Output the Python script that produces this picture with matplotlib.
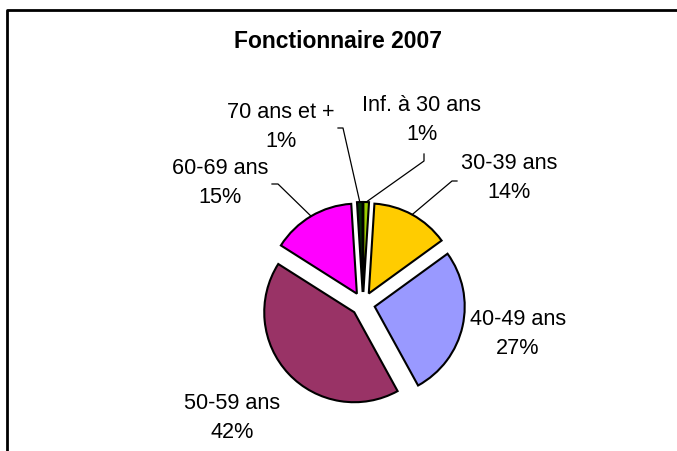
import numpy as np
import matplotlib.pyplot as plt

plt.rcParams['font.family'] = ['Liberation Sans', 'DejaVu Sans']

categories = ['Inf. à 30 ans', '30-39 ans', '40-49 ans', '50-59 ans', '60-69 ans', '70 ans et +']
valeurs = [1, 14, 27, 42, 15, 1]
couleurs = ['#99CC00', '#FFCC00', '#9999FF', '#993366', '#FF00FF', '#003300']

W, H = 677, 452


def px(x, y):
    # coordonnees pixel (origine en haut a gauche) -> donnees
    return x, H - y


fig = plt.figure(figsize=(W / 100, H / 100), dpi=100)
ax = fig.add_axes([0, 0, 1, 1])

# cadre du graphique (coupe a droite et en bas)
ax.plot([7, 7, W + 5], [-5, H - 11, H - 11], c='k', lw=2, solid_capstyle='butt')

# explode en unites de donnees (pixels)
wedges, _ = ax.pie(valeurs, colors=couleurs, startangle=90, counterclock=False,
                   explode=[12] * len(valeurs), radius=90, center=px(363, 305),
                   wedgeprops=dict(edgecolor='k', linewidth=1.5), frame=True)
ax.set_xlim(0, W)
ax.set_ylim(0, H)
ax.set_aspect('equal')
ax.axis('off')

ax.text(*px(338, 42), 'Fonctionnaire 2007', ha='center', va='center',
        fontsize=16.5, fontweight='bold')

pourcent = [f'{v}%' for v in valeurs]
pos_labels = [(422, 120), (509, 178), (518, 334), (232, 418), (220, 183), (281, 127)]
for i in range(len(categories)):
    ax.text(*px(*pos_labels[i]), categories[i] + '\n' + pourcent[i], ha='center', va='center',
            fontsize=15.6, linespacing=1.5)

# lignes de rappel : du label vers le milieu de l'arc
coudes = {0: [(424, 155), (424, 162)], 1: [(457, 182), (452, 182)],
          4: [(272, 185), (278, 185)], 5: [(338, 129), (343, 129)]}
for i, pts in coudes.items():
    w = wedges[i]
    mid = np.deg2rad((w.theta1 + w.theta2) / 2)
    xe = w.center[0] + w.r * np.cos(mid)
    ye = w.center[1] + w.r * np.sin(mid)
    xs = [px(*p)[0] for p in pts] + [xe]
    ys = [px(*p)[1] for p in pts] + [ye]
    ax.plot(xs, ys, c='k', lw=0.9)

fig.savefig('out.png', dpi=100)
